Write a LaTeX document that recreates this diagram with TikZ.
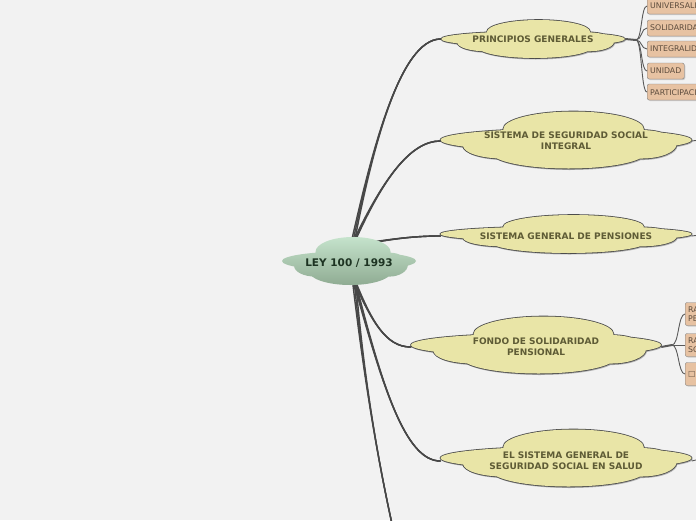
\documentclass[tikz,border=0pt]{standalone}
\usepackage{fontspec}
\setmainfont{DejaVu Sans}
\usetikzlibrary{shadows}

\definecolor{fondogris}{HTML}{F2F2F2}
\definecolor{ideafill}{HTML}{E9E5A7}
\definecolor{ideatext}{HTML}{5E5B35}
\definecolor{centrotop}{HTML}{C6E4CD}
\definecolor{centrobot}{HTML}{8DA990}
\definecolor{centrotext}{HTML}{1D3322}
\definecolor{hojafill}{HTML}{E7C2A2}
\definecolor{hojatext}{HTML}{5C4B3C}

% cloud outline: centre x, centre y, half width, half height
\newcommand{\nube}[4]{
  (#1,#2) ellipse [x radius=#3, y radius=0.4*#4]
  ({#1+0.06*#3},{#2-0.38*#4}) ellipse [x radius=0.56*#3, y radius=0.62*#4]
  ({#1+0.02*#3},{#2+0.42*#4}) ellipse [x radius=0.62*#3, y radius=0.58*#4]
  ({#1-0.5*#3},{#2+0.2*#4}) ellipse [x radius=0.32*#3, y radius=0.45*#4]
  ({#1+0.6*#3},{#2+0.15*#4}) ellipse [x radius=0.28*#3, y radius=0.5*#4]
}

\begin{document}
\begin{tikzpicture}[x=1pt,y=-1pt]
  \tikzset{
    idea/.style={inner sep=0pt, text=ideatext, align=center, font=\bfseries\fontsize{9}{11}\selectfont},
    centro/.style={inner sep=0pt, text=centrotext, font=\bfseries\fontsize{10.5}{12}\selectfont},
    hoja/.style={draw=black!50, fill=hojafill, rounded corners=2pt, anchor=west, inner sep=3pt,
      minimum height=16pt, text=hojatext, font=\fontsize{7.8}{9}\selectfont, align=left,
      drop shadow={shadow xshift=1pt, shadow yshift=-1pt, opacity=.35}},
    rama/.style={draw=black!72, line width=1.4pt, line cap=round},
    ramita/.style={draw=black!65, line width=.9pt},
  }

  \clip (0,0) rectangle (696,520);
  \fill[fondogris] (0,0) rectangle (696,520);

  \foreach \cx/\cy/\w/\h in {533/39/92/19, 566/140/125.5/28.5, 566/234/125.5/19,
                             536/345/125/28.5, 566/458/125.5/28.5}{
    \fill[black!30, xshift=1pt, yshift=-1.5pt] \nube{\cx}{\cy}{\w}{\h};
    \draw[black!70, line width=1.6pt] \nube{\cx}{\cy}{\w}{\h};
    \fill[ideafill] \nube{\cx}{\cy}{\w}{\h};
  }

  \node[idea, minimum width=184, minimum height=38] (princ) at (533,39) {PRINCIPIOS GENERALES};
  \node[idea, minimum width=251, minimum height=57] (integ) at (566,141) {SISTEMA DE SEGURIDAD SOCIAL\\INTEGRAL};
  \node[idea, minimum width=251, minimum height=38] (pens) at (566,236) {SISTEMA GENERAL DE PENSIONES};
  \node[idea, minimum width=250, minimum height=57] (fondo) at (536,347) {FONDO DE SOLIDARIDAD\\PENSIONAL};
  \node[idea, minimum width=251, minimum height=57] (salud) at (566,461) {EL SISTEMA GENERAL DE\\SEGURIDAD SOCIAL EN SALUD};

  \coordinate (arriba) at (352,246);
  \coordinate (abajo) at (354,280);
  \coordinate (fuera) at (392,524);

  \foreach \d in {-1.6,0,1.6}{
    \draw[rama] ([xshift=\d]arriba) .. controls (372,150) and (400,39) .. (princ.west);
    \draw[rama] ([xshift=\d]abajo) .. controls (364,380) and (378,460) .. (fuera);
  }
  \foreach \d in {-1,0,1}{
    \draw[rama] ([xshift=\d]arriba) .. controls (382,180) and (410,141) .. (integ.west);
    \draw[rama] ([yshift=\d]arriba) .. controls (385,240) and (410,236) .. (pens.west);
    \draw[rama] ([xshift=\d]abajo) .. controls (372,322) and (386,347) .. (fondo.west);
    \draw[rama] ([xshift=\d]abajo) .. controls (382,385) and (405,461) .. (salud.west);
  }

  \begin{scope}
    \clip \nube{349}{261}{67}{24};
    \shade[top color=centrotop, bottom color=centrobot] (280,236) rectangle (418,287);
  \end{scope}
  \node[centro, minimum width=134, minimum height=48] (ley) at (349,263) {LEY 100 / 1993};

  \node[hoja, text width=60pt] (univ) at (647,6) {UNIVERSALIDAD};
  \node[hoja, text width=60pt] (solid) at (647,28) {SOLIDARIDAD};
  \node[hoja, text width=60pt] (integr) at (647,49) {INTEGRALIDAD};
  \node[hoja] (unid) at (647,71) {UNIDAD};
  \node[hoja, text width=60pt] (partic) at (647,92) {PARTICIPACIÓN};

  \coordinate (pnudo) at (636,40);
  \draw[ramita, line width=2pt] (princ.east) -- (pnudo);
  \foreach \h in {univ,solid,integr,unid,partic}
    \draw[ramita] (pnudo) .. controls +(6,0) and +(-6,0) .. (\h.west);

  \node[hoja, text width=30pt, minimum height=23pt] (fa) at (685,314) {RA\\PE};
  \node[hoja, text width=30pt, minimum height=23pt] (fb) at (685,345) {RA\\SO};
  \node[hoja, text width=30pt, minimum height=23pt] (fc) at (685,374) {□};

  \coordinate (fnudo) at (672,345);
  \draw[ramita, line width=2pt] (fondo.east) -- (fnudo);
  \foreach \h in {fa,fb,fc}
    \draw[ramita] (fnudo) .. controls +(7,0) and +(-7,0) .. (\h.west);

  \coordinate (ifin) at (700,140);
  \coordinate (pfin) at (700,235);
  \coordinate (sfin) at (700,459);
  \draw[ramita] (integ.east) -- (ifin);
  \draw[ramita] (pens.east) -- (pfin);
  \draw[ramita] (salud.east) -- (sfin);
\end{tikzpicture}
\end{document}
